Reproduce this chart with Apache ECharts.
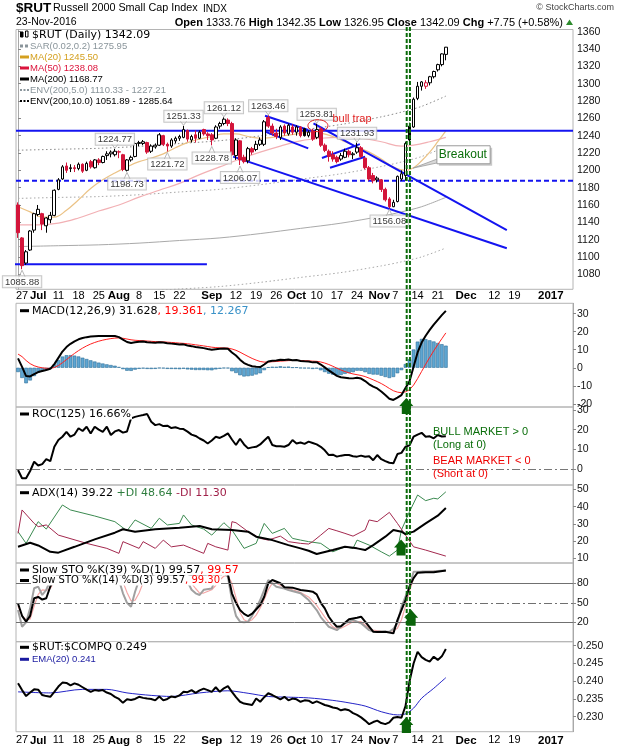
<!DOCTYPE html>
<html><head><meta charset="utf-8">
<script src="https://cdn.jsdelivr.net/npm/echarts@6/dist/echarts.min.js"></script>
<style>html,body{margin:0;padding:0;background:#fff}#c{width:620px;height:750px}</style>
</head><body><div id="c"></div>
<script>
// ---------- DATA ----------
const dates = ['Jun 24','Jun 27','Jun 28','Jun 29','Jun 30','Jul 1','Jul 5','Jul 6','Jul 7','Jul 8','Jul 11','Jul 12','Jul 13','Jul 14','Jul 15','Jul 18','Jul 19','Jul 20','Jul 21','Jul 22','Jul 25','Jul 26','Jul 27','Jul 28','Jul 29','Aug 1','Aug 2','Aug 3','Aug 4','Aug 5','Aug 8','Aug 9','Aug 10','Aug 11','Aug 12','Aug 15','Aug 16','Aug 17','Aug 18','Aug 19','Aug 22','Aug 23','Aug 24','Aug 25','Aug 26','Aug 29','Aug 30','Aug 31','Sep 1','Sep 2','Sep 6','Sep 7','Sep 8','Sep 9','Sep 12','Sep 13','Sep 14','Sep 15','Sep 16','Sep 19','Sep 20','Sep 21','Sep 22','Sep 23','Sep 26','Sep 27','Sep 28','Sep 29','Sep 30','Oct 3','Oct 4','Oct 5','Oct 6','Oct 7','Oct 10','Oct 11','Oct 12','Oct 13','Oct 14','Oct 17','Oct 18','Oct 19','Oct 20','Oct 21','Oct 24','Oct 25','Oct 26','Oct 27','Oct 28','Oct 31','Nov 1','Nov 2','Nov 3','Nov 4','Nov 7','Nov 8','Nov 9','Nov 10','Nov 11','Nov 14','Nov 15','Nov 16','Nov 17','Nov 18','Nov 21','Nov 22','Nov 23','Nov 25','Nov 28','Nov 29','Nov 30','Dec 1','Dec 2','Dec 5','Dec 6','Dec 7','Dec 8','Dec 9','Dec 12','Dec 13','Dec 14','Dec 15','Dec 16','Dec 19','Dec 20','Dec 21','Dec 22','Dec 23','Dec 27','Dec 28','Dec 29','Dec 30','Jan 3','Jan 4','Jan 5','Jan 6','Jan 9','Jan 10'];

// tick labels: [category, text, style] (1 = month, bold)
const xTickLabels = [['Jun 27','27',0],['Jul 1','Jul',1],['Jul 11','11',0],['Jul 18','18',0],['Jul 25','25',0],['Aug 1','Aug',1],['Aug 8','8',0],['Aug 15','15',0],['Aug 22','22',0],['Sep 1','Sep',1],['Sep 12','12',0],['Sep 19','19',0],['Sep 26','26',0],['Oct 3','Oct',1],['Oct 10','10',0],['Oct 17','17',0],['Oct 24','24',0],['Nov 1','Nov',3],['Nov 7','7',2],['Nov 14','14',0],['Nov 21','21',0],['Dec 1','Dec',1],['Dec 12','12',0],['Dec 19','19',0],['Jan 3','2017',1]];

// [open, close, low, high]
const candles = [[1160,1128,1122,1163],[1122,1090,1085.88,1123],[1093,1106,1091,1108],[1108,1130,1107,1131],[1131,1150,1128,1151],[1149,1155,1147,1160],[1150,1138,1131,1151],[1136,1145,1128,1146],[1143,1148,1139,1152],[1148,1177,1147,1178],
[1178,1189,1177,1191],[1190,1204,1189,1206],[1205,1200,1197,1209],[1202,1203,1198,1207],[1203,1202,1198,1206],[1202,1207,1200,1209],[1207,1199,1197,1208],[1200,1208,1199,1210],[1210,1204,1202,1212],[1203,1212,1202,1213],
[1212,1209,1206,1214],[1209,1216,1208,1217],[1217,1219,1212,1222],[1219,1221,1215,1223],[1218,1222,1216,1224.77],[1221,1221.5,1214,1223],[1218,1201,1199,1219],[1200,1212,1198.73,1213],[1212,1215,1210,1217],[1216,1231,1215,1232],
[1231,1232,1228,1234],[1231,1233,1229,1235],[1232,1221,1219,1233],[1222,1228,1220,1230],[1227,1229,1225,1231],[1229,1241,1228,1243],[1240,1230,1228,1241],[1230,1228,1221.72,1232],[1228,1235,1226,1237],[1234,1237,1231,1239],
[1237,1239,1234,1241],[1238,1247,1237,1251.33],[1246,1236,1233,1247],[1235,1239,1232,1241],[1241,1237,1232,1246],[1237,1244,1236,1246],[1247,1242,1240,1248],[1242,1240,1235,1244],[1241,1235,1228.78,1243],[1237,1250,1236,1252],
[1251,1254,1248,1256],[1254,1259,1252,1261.12],[1258,1254,1251,1260],[1254,1218,1217,1256],[1217,1235,1212,1237],[1234,1212,1206.07,1235],[1215,1210,1208,1218],[1211,1225,1208,1227],[1225,1221,1218,1227],[1224,1230,1222,1234],
[1230,1235,1228,1238],[1230,1256,1228,1258],[1261,1251,1249,1263.46],[1251,1243,1240,1254],[1243,1239,1236,1248],[1238,1250,1235,1252],[1251,1243,1240,1253],[1242,1252,1240,1254],[1250,1244,1241,1253],[1244,1250,1240,1252],
[1250,1240,1238,1251],[1248,1240,1239,1249],[1240,1244,1238,1246],[1245,1236,1234,1248],[1238,1247,1236,1253.81],[1248,1229,1227,1250],[1229,1223,1221,1231],[1222,1216,1210,1224],[1218,1213,1210,1222],[1215,1210,1208,1217],
[1213,1217,1211,1220],[1215,1222,1214,1225],[1222,1218,1215,1224],[1218,1219,1213,1221],[1221,1226,1219,1231.93],[1226,1216,1214,1228],[1214,1203,1201,1215],[1203,1190,1188,1205],[1194,1188,1185,1197],[1189,1191,1186,1193],
[1189,1178,1175,1190],[1178,1166,1164,1180],[1167,1158,1156.08,1169],[1158,1163,1157.5,1166],[1164,1193,1163,1194],[1190,1196,1188,1200],[1194,1231,1188,1233],[1251,1235,1232,1255],[1250,1282,1249,1284],[1283,1297,1281,1302],
[1297,1302,1292,1303],[1297,1301,1294,1304],[1301,1308,1298,1309],[1308,1314,1306,1315],[1316,1322,1314,1323],[1322,1334.34,1320,1335],[1333.76,1342.09,1326.95,1342.35]];

// overlays [index, value]
const ma20 = [[0,1158],[3,1152],[6,1146],[9,1146],[12,1154],[15,1166],[18,1179],[21,1189],[24,1197],[27,1204],[30,1210],[33,1214],[36,1219],[39,1226],[42,1232],[45,1236],[48,1239],[51,1242],[54,1242],[57,1239],[60,1237],[63,1238],[66,1240],[69,1242],[72,1244],[75,1243],[78,1239],[81,1233],[84,1227],[87,1221],[90,1213],[93,1204],[96,1200],[98,1203],[100,1211],[102,1221],[104,1233],[106,1245.5]];
const ma50 = [[0,1137],[5,1137],[10,1139],[15,1145],[20,1153],[25,1160],[30,1169],[35,1177],[40,1185],[45,1195],[50,1204],[55,1213],[60,1221],[65,1228],[70,1234],[75,1237],[80,1238],[85,1237],[90,1233],[95,1228],[98,1229],[102,1233],[106,1238.08]];
const ma200 = [[0,1112],[10,1113],[20,1114],[30,1116],[40,1119],[50,1122],[60,1127],[70,1133],[80,1139],[90,1147],[95,1152],[100,1158],[106,1168.77]];
const env5Upper = [[0,1167.6],[10,1168.7],[20,1169.7],[30,1171.8],[40,1175],[50,1178.1],[60,1183.4],[70,1189.7],[80,1196],[90,1204.4],[95,1209.6],[100,1215.9],[106,1227.21]];
const env5Lower = [[0,1056.4],[10,1057.4],[20,1058.3],[30,1060.2],[40,1063],[50,1065.9],[60,1070.7],[70,1076.4],[80,1082],[90,1089.7],[95,1094.4],[100,1100.1],[106,1110.33]];
const env10Upper = [[0,1223.2],[10,1224.3],[20,1225.4],[30,1227.6],[40,1230.9],[50,1234.2],[60,1239.7],[70,1246.3],[80,1252.9],[90,1261.7],[95,1267.2],[100,1273.8],[106,1285.64]];
const env10Lower = [[0,1000.8],[50,1009.8],[100,1042.2],[106,1051.89]];

// price callouts [index, value, side]
const priceNotes = [[1,1085.88,'low'],[24,1224.77,'high'],[27,1198.73,'low'],[37,1221.72,'low'],[41,1251.33,'high'],[48,1228.78,'low'],[51,1261.12,'high'],[55,1206.07,'low'],[62,1263.46,'high'],[74,1253.81,'high'],[84,1231.93,'high'],[92,1156.08,'low']];

// drawn trendlines [x1, y1, x2, y2] in index/price units
const trendSegments = [[-4.5,1091.5,46.8,1091.5],[61.2,1263.0,71.9,1246.5],[61.2,1244.6,71.9,1225.3],[73.2,1254.2,121.1,1131.1],[53.3,1215.8,121.1,1110],[75.3,1214.2,84.7,1230.2],[77.3,1203,86.0,1215.7]];
const resistanceLevel = 1245.8;
const supportLevel = 1188;
const breakoutDays = [96.3, 97.1];
const bullTrapAt = [74.3, 1251.5];
const breakoutNoteAt = [97.9, 1202.6];

// MACD
const macdLine = [5.2,0.5,-4.6,-4.8,-3.5,-2.4,-1.8,-1.2,-0.6,2.0,5.5,9.0,11.5,13.3,14.7,15.8,16.5,17.0,17.3,17.5,17.6,17.7,17.7,17.7,17.6,17.0,15.6,14.3,13.8,14.2,14.5,14.6,14.2,14.0,13.9,14.2,14.0,13.6,13.4,13.2,12.9,13.0,12.4,12.0,11.5,11.2,10.9,10.4,10.0,10.3,10.5,10.7,10.6,8.5,6.8,4.5,2.6,1.6,0.8,0.5,0.4,1.8,3.5,3.9,4.0,4.5,4.3,4.6,4.2,4.3,3.8,3.6,3.5,3.0,3.1,1.8,0.2,-1.5,-3.0,-4.5,-5.3,-5.5,-5.8,-5.9,-5.5,-6.0,-7.4,-9.2,-10.5,-11.5,-13.2,-15.2,-17.2,-17.9,-16.6,-15.2,-11.3,-7.5,0.5,8.5,14.0,17.8,21.0,24.0,26.6,29.2,31.63];
const macdSignal = [7.6,6.18,4.02,2.26,1.11,0.41,-0.03,-0.26,-0.33,0.14,1.21,2.77,4.52,6.28,7.96,9.53,10.92,12.14,13.17,14.04,14.75,15.34,15.81,16.19,16.47,16.58,16.38,15.96,15.53,15.26,15.11,15.01,14.85,14.68,14.52,14.46,14.37,14.22,14.06,13.89,13.69,13.55,13.32,13.06,12.75,12.44,12.13,11.78,11.42,11.20,11.06,10.99,10.91,10.43,9.70,8.66,7.45,6.28,5.18,4.24,3.47,3.14,3.21,3.35,3.48,3.68,3.80,3.96,4.01,4.07,4.02,3.94,3.85,3.68,3.56,3.21,2.61,1.79,0.83,-0.24,-1.25,-2.10,-2.84,-3.45,-3.86,-4.29,-4.91,-5.77,-6.72,-7.68,-8.78,-10.06,-11.49,-12.77,-13.54,-13.87,-13.36,-12.19,-9.65,-6.02,-2.02,1.94,5.75,9.40,12.84,16.11,19.36];
const macdHist = [-2.4,-5.68,-8.62,-7.06,-4.61,-2.81,-1.77,-0.94,-0.27,1.86,4.29,6.23,6.98,7.02,6.74,6.27,5.58,4.86,4.13,3.46,2.85,2.36,1.89,1.51,1.13,0.42,-0.78,-1.66,-1.73,-1.06,-0.61,-0.41,-0.65,-0.68,-0.62,-0.26,-0.37,-0.62,-0.66,-0.69,-0.79,-0.55,-0.92,-1.06,-1.25,-1.24,-1.23,-1.38,-1.42,-0.90,-0.56,-0.29,-0.31,-1.93,-2.90,-4.16,-4.85,-4.68,-4.38,-3.74,-3.07,-1.34,0.29,0.55,0.52,0.82,0.50,0.64,0.19,0.23,-0.22,-0.34,-0.35,-0.68,-0.46,-1.41,-2.41,-3.29,-3.83,-4.26,-4.05,-3.40,-2.96,-2.45,-1.64,-1.71,-2.49,-3.43,-3.78,-3.82,-4.42,-5.14,-5.71,-5.13,-3.06,-1.33,2.06,4.69,10.15,14.52,16.02,15.86,15.25,14.60,13.76,13.09,12.27];

// ROC(125)
const roc = [[0,-0.5],[1,-4.7],[2,-4.7],[3,-1],[4,3.7],[5,1.8],[6,2.5],[7,5],[8,4],[9,11.3],[10,14.7],[11,16.4],[12,18.9],[13,16.4],[14,17.5],[15,20.7],[16,19.3],[17,21.5],[18,18.1],[19,21.5],[20,20.0],[21,18.9],[22,21.5],[23,17.3],[24,19.1],[25,19.8],[26,18.5],[27,19.1],[28,25.7],[29,26.5],[30,27.0],[31,27.4],[32,27.9],[33,24],[34,22.3],[35,22.8],[36,21.8],[37,22],[38,20.8],[39,21.2],[40,20.5],[41,20.3],[42,19],[43,17.5],[44,16.8],[45,15.5],[46,14.5],[47,13.0],[48,14.5],[49,16.4],[50,15.8],[51,16.8],[52,18.1],[53,15],[54,12.2],[55,15.4],[56,12.5],[57,10.5],[58,11],[59,11.3],[60,12.5],[61,14.5],[62,16.4],[63,12.2],[64,11.6],[65,11.6],[66,11.3],[67,12.2],[68,14.7],[69,13],[70,13.5],[71,12.8],[72,13.9],[73,13.2],[74,12.5],[75,11.3],[76,9.5],[77,7.1],[78,7.3],[79,6.3],[80,6.8],[81,7.1],[82,7.1],[83,6.5],[84,6.3],[85,6.8],[86,6.2],[87,6.5],[88,4.5],[89,7.1],[90,5],[91,4],[92,3.2],[93,2.9],[94,7.6],[95,8.2],[96,11.3],[97,12],[98,16.4],[99,17.5],[100,18.4],[101,16.4],[102,16.6],[103,15.6],[104,17.3],[105,16.5],[106,16.66]];

// ADX(14)
const adx = [[0,16.7],[3,19.1],[5,17.5],[8,13.8],[10,13.3],[14,16.7],[19,21],[24,24.9],[26,26.9],[29,25.5],[34,26.9],[40,27.8],[45,28.8],[48,26.9],[53,26.5],[57,25.5],[59,22.6],[63,20.6],[67,17.7],[70,15.8],[72,14.4],[74,12.5],[78,14.8],[81,16.7],[84,15.8],[86,14.8],[88,17.7],[91,22.6],[93,26.5],[95,25.5],[96,24.1],[98,25.5],[101,30.3],[104,34.8],[106,39.22]];
const plusDI = [[0,25.5],[2,18.7],[5,31.3],[7,27],[11,41],[13,38.1],[19,34.6],[24,31.3],[27,26],[29,32.3],[33,27.4],[35,33.3],[37,29.4],[40,30.3],[41,35.2],[43,29.4],[46,27],[48,23.5],[51,30.7],[52,28.5],[53,26.5],[56,15.8],[59,18.7],[61,30.3],[63,24.5],[66,27.4],[68,21.6],[70,20.6],[72,19.7],[75,18.7],[78,13.8],[81,16.7],[83,15.8],[84,20.6],[87,17.7],[90,13.8],[92,11.3],[94,14.8],[95,26.5],[97,37.1],[99,46.8],[101,43.5],[103,44.9],[104,44.5],[106,48.64]];
const minusDI = [[0,24.5],[1,38.1],[4,30.3],[5,28.4],[7,29.4],[10,23.5],[17,18.7],[22,15.8],[25,12.9],[26,19.7],[30,15.8],[31,19.7],[34,15.8],[36,20.6],[38,16.7],[41,17.7],[43,15.8],[46,12.9],[47,18.7],[49,16.7],[52,14.8],[53,31.3],[54,30.7],[57,25.5],[60,21.6],[62,20.6],[65,22.9],[67,19.7],[70,18.7],[72,18.3],[73,19.7],[75,23.5],[77,27.4],[79,26],[81,24.5],[83,22.9],[86,26.5],[87,32.3],[89,31.3],[92,36.7],[94,30.3],[96,23.5],[98,16.7],[101,14.8],[106,11.3]];

// Slow stochastics
const stoK39 = [[0,49],[1,30],[2,21],[3,30],[4,57],[5,59],[6,55],[7,57],[8,75],[9,88],[10,93],[11,97],[12,95],[14,94],[16,92],[18,95],[20,96],[22,97],[24,98],[25,96],[26,85],[27,88],[29,96],[31,97],[33,92],[35,96],[37,90],[39,94],[41,97],[43,92],[45,94],[47,90],[48,88],[49,95],[51,97],[52,94],[53,64.6],[54,50],[55,38.9],[56,33],[57,29.7],[58,33.2],[60,46.6],[61,59.4],[62,80],[63,85],[65,80],[66,73.8],[68,73.3],[70,69.7],[72,68],[73,67.1],[74,63],[75,50],[76,41.5],[77,28.6],[78,20],[79,13.2],[80,14],[82,24.6],[84,27],[85,28.6],[86,21],[88,5.5],[89,5],[91,5.5],[93,3],[94,23.5],[96,54.3],[97,75],[98,88],[99,96.3],[101,97],[103,97],[106,99.57]];
const stoK14 = [[0,38.9],[1,13.2],[2,20],[3,41.5],[4,72.3],[5,74.8],[6,62],[7,70],[8,85],[9,95],[10,96],[12,90],[14,88],[16,85],[18,92],[20,90],[22,95],[24,96],[25,85],[26,64.6],[27,50],[28,44],[29,67],[30,85],[31,90],[33,80],[35,92],[37,78],[39,88],[41,95],[43,70],[44,64.6],[45,62],[46,70],[48,72],[49,88],[51,96],[52,90],[53,54.3],[54,30],[55,21],[56,20],[57,21],[58,30],[59,41.5],[60,54.3],[61,70],[62,85],[64,74.8],[66,72],[67,69.7],[70,64.6],[72,54.3],[74,38.9],[75,28],[77,13.2],[79,8],[81,18.4],[83,23.5],[85,18.4],[87,8],[88,6],[90,5.5],[92,5.5],[93,10],[94,18.4],[95,44],[97,74.8],[98,97.9],[100,98],[103,98.5],[106,99.57]];
const stoD3 = [[0,45],[1,30],[2,24],[3,25],[4,45],[5,63],[6,70],[7,69],[8,72],[9,83],[10,92],[12,92],[14,89],[16,87],[18,88],[20,90],[22,93],[24,95],[25,92],[26,82],[27,66],[28,53],[29,54],[30,65],[31,81],[33,85],[35,87],[37,84],[39,86],[41,91],[43,80],[44,72],[45,65],[46,65],[48,70],[49,77],[50,85],[51,91],[52,92],[53,80],[54,58],[55,35],[56,24],[57,21],[58,24],[59,31],[60,42],[61,55],[62,70],[63,80],[64,80],[66,74],[68,70],[70,66],[72,59],[74,46],[75,37],[76,28],[77,20],[78,13],[79,10],[80,11],[81,14],[83,21],[85,21],[86,16],[87,11],[88,8],[90,6],[92,5.5],[93,7],[94,11],[95,24],[96,45],[97,68],[98,87],[99,97],[101,98],[103,98.5],[106,99.3]];

// $RUT:$COMPQ ratio and EMA(20)
const ratio = [[0,0.2394],[1,0.2375],[2,0.2358],[3,0.2368],[4,0.2377],[5,0.2376],[6,0.2361],[7,0.2358],[8,0.2356],[9,0.2370],[10,0.2385],[11,0.2396],[12,0.2395],[13,0.2388],[14,0.2394],[15,0.2390],[16,0.2383],[17,0.2376],[18,0.2370],[19,0.2375],[20,0.2373],[21,0.2375],[22,0.2368],[23,0.2364],[24,0.2356],[25,0.2350],[26,0.2339],[27,0.2349],[28,0.2347],[29,0.2350],[30,0.2356],[31,0.2353],[32,0.2351],[33,0.2350],[34,0.2346],[35,0.2357],[36,0.2346],[37,0.2350],[38,0.2357],[39,0.2355],[40,0.2360],[41,0.2370],[42,0.2369],[43,0.2375],[44,0.2367],[45,0.2374],[46,0.2379],[47,0.2375],[48,0.2370],[49,0.2383],[50,0.2370],[51,0.2380],[52,0.2386],[53,0.2370],[54,0.2355],[55,0.2342],[56,0.2337],[57,0.2335],[58,0.2333],[59,0.2351],[60,0.2342],[61,0.2355],[62,0.2366],[63,0.2361],[64,0.2355],[65,0.2349],[66,0.2356],[67,0.2346],[68,0.2351],[69,0.2349],[70,0.2342],[71,0.2346],[72,0.2345],[73,0.2338],[74,0.2343],[75,0.2338],[76,0.2333],[77,0.2330],[78,0.2326],[79,0.2324],[80,0.2318],[81,0.2321],[82,0.2318],[83,0.2310],[84,0.2305],[85,0.2298],[86,0.2289],[87,0.2279],[88,0.2285],[89,0.2289],[90,0.2282],[91,0.2279],[92,0.2284],[93,0.2297],[94,0.2299],[95,0.2297],[96,0.2330],[97,0.2400],[98,0.2450],[99,0.2483],[100,0.2468],[101,0.2460],[102,0.2455],[103,0.2469],[104,0.2460],[105,0.2470],[106,0.2491]];
const ratioEma = [[0,0.2370],[8,0.2367],[16,0.2377],[22,0.2377],[27,0.2367],[33,0.2360],[38,0.2357],[45,0.2367],[52,0.2373],[57,0.2366],[62,0.2357],[67,0.2355],[72,0.2353],[78,0.2346],[82,0.2339],[86,0.2330],[90,0.2314],[94,0.2305],[96,0.2308],[98,0.2324],[100,0.2352],[103,0.2380],[106,0.2410]];

// axis tick values
const mainTicks = [1080,1100,1120,1140,1160,1180,1200,1220,1240,1260,1280,1300,1320,1340,1360];
const macdTicks = [-20,-10,0,10,20,30];
const rocTicks = [0,10,20,30];
const adxTicks = [10,20,30,40,50];
const stoTicks = [20,50,80];
const ratioTicks = [0.230,0.235,0.240,0.245,0.250];

// arrows: [index, panel, value]
const signalArrows = [[96.2,1,-21.3],[94.9,3,16.3],[97.4,4,26.9],[96.2,5,0.22766]];

// ---------- CHART ----------
const FA = 'Liberation Sans, Arial, sans-serif';
const FL = 'DejaVu Sans, Verdana, sans-serif';
const RED = '#d3153a';
const chart = echarts.init(document.getElementById('c'));

const panelBoxes = [[29.5,259.8],[303.3,103.7],[407,78],[485,78],[563,78.7],[641.7,90]];
const grids = panelBoxes.map(([t,h]) => ({left:16, right:47, top:t, height:h, show:true, borderColor:'#b4b4b4', borderWidth:1}));

const labelMap = {};
const tagFor = ['n','m','s','t'];
xTickLabels.forEach(([d,t,b]) => labelMap[d] = '{'+tagFor[b]+'|'+t+'}');
const xLabelStyle = (margin) => ({
  show:true, interval:(i,v)=>labelMap[v]!==undefined, formatter:(v)=>labelMap[v]||'', margin:margin,
  rich:{m:{fontFamily:FA,fontSize:11.5,fontWeight:'bold',color:'#000'}, n:{fontFamily:FA,fontSize:11,color:'#000'},
        s:{fontFamily:FA,fontSize:11,color:'#000',padding:[0,4,0,0]}, t:{fontFamily:FA,fontSize:11.5,fontWeight:'bold',color:'#000',padding:[0,4,0,0]}}
});
const xAxes = panelBoxes.map((b,k)=>({type:'category', gridIndex:k, data:dates, boundaryGap:true,
  axisLine:{show:false}, axisTick:{show:false}, splitLine:{show:false},
  axisLabel: (k===0? xLabelStyle(1) : (k===5? xLabelStyle(3) : {show:false}))}));
xAxes.push({type:'value', gridIndex:0, min:-0.5, max:dates.length-0.5, show:false});

const yDefs = [[1062.7,1362.5,mainTicks,null],[-21.8,35.8,macdTicks,null],[-8.1,31.5,rocTicks,null],[7.3,52.6,adxTicks,null],[-9.8,111.2,stoTicks,null],[0.22577,0.25113,ratioTicks,v=>v.toFixed(3)]];
const yAxes = yDefs.map(([mn,mx,ticks,fmt],k)=>({type:'value', gridIndex:k, position:'right', min:mn, max:mx,
  splitLine:{show:false}, axisLine:{show:true, lineStyle:{color:'#a8a8a8'}},
  axisTick:{show:true, length:3, customValues:ticks, lineStyle:{color:'#888'}},
  axisLabel:{show:true, customValues:ticks, formatter: fmt || (v=>String(v)), color:'#111', fontSize:10.5, fontFamily:FA, margin:4}}));

const candleItems = candles.map((d,i)=>{
  const [o,c,l,h] = d; const prev = i>0 ? candles[i-1][1] : o;
  let fill, border;
  if (c >= o) { fill = '#ffffff'; border = c >= prev ? '#000000' : RED; }
  else { fill = c < prev ? RED : '#000000'; border = fill; }
  return {value:[o,c,l,h], itemStyle:{color:fill, color0:fill, borderColor:border, borderColor0:border, borderWidth:1}};
});

const line = (data, xi, yi, color, width, extra) => Object.assign({type:'line', xAxisIndex:xi, yAxisIndex:yi, data, symbol:'none', showSymbol:false, silent:true, animation:false, connectNulls:true, lineStyle:{color, width}}, extra||{});

const series = [];
series.push(line(env10Lower,0,0,'#8a8a8a',1,{lineStyle:{color:'#8a8a8a',width:1,type:[1.5,2.5]}}));
series.push(line(env10Upper,0,0,'#8a8a8a',1,{smooth:0.3,lineStyle:{color:'#8a8a8a',width:1,type:[1.5,2.5]}}));
series.push(line(env5Upper,0,0,'#b0b0b0',1,{smooth:0.3,lineStyle:{color:'#a8a8a8',width:1,type:[1.5,2.5]}}));
series.push(line(env5Lower,0,0,'#b0b0b0',1,{smooth:0.3,lineStyle:{color:'#a8a8a8',width:1,type:[1.5,2.5]}}));
series.push(line(ma200,0,0,'#a9a9a9',1,{smooth:0.3}));
series.push(line(ma50,0,0,'#f2b0b4',1.2,{smooth:0.4}));
series.push(line(ma20,0,0,'#ebc285',1.2,{smooth:0.4}));
series.push(line([[-0.5,resistanceLevel],[dates.length-0.5,resistanceLevel]],6,0,'#1414f0',2,{clip:false}));
series.push(line([[-0.5,supportLevel],[dates.length-0.5,supportLevel]],6,0,'#1414f0',2,{clip:false,lineStyle:{color:'#1414f0',width:2,type:[5,3]}}));
trendSegments.forEach(s=>series.push(line([[s[0],s[1]],[s[2],s[3]]],6,0,'#1414f0',2,{clip:false})));
series.push({type:'candlestick', xAxisIndex:0, yAxisIndex:0, data:candleItems, barWidth:3.2, silent:true, animation:false, z:5});
series.push({type:'scatter', xAxisIndex:0, yAxisIndex:0, symbolSize:0, silent:true, animation:false, z:20,
  data: priceNotes.map(([i,v,side])=>({value:[i,v], label:{position: side==='high'?'top':'bottom', distance: side==='high'?4:7}})),
  label:{show:true, formatter:p=>p.value[1].toFixed(2), fontSize:9.5, fontFamily:FA, color:'#000', backgroundColor:'#fff', borderColor:'#b8b8b8', borderWidth:1, padding:[1,2,0,2]}});
series.push({type:'bar', xAxisIndex:1, yAxisIndex:1, data:macdHist, barWidth:3.6, silent:true, animation:false, itemStyle:{color:'#5ea6d2', borderColor:'#2d6e98', borderWidth:0.6}});
series.push(line(macdSignal.map((v,i)=>[i,v]),1,1,'#ff2020',1));
series.push(line(macdLine.map((v,i)=>[i,v]),1,1,'#000',2));
series.push(line(roc,2,2,'#000',2,{markLine:{silent:true,symbol:'none',label:{show:false},animation:false,data:[{yAxis:0,lineStyle:{color:'#777',width:1,type:[8,3,2,3]}}]}}));
series.push(line(plusDI,3,3,'#3b8a50',1));
series.push(line(minusDI,3,3,'#a3284e',1));
series.push(line(adx,3,3,'#000',2));
series.push(line(stoD3,4,4,'#f4a6a6',1.2,{markLine:{silent:true,symbol:'none',label:{show:false},animation:false,data:[
  {yAxis:80,lineStyle:{color:'#707070',width:1,type:'solid'}},{yAxis:20,lineStyle:{color:'#707070',width:1,type:'solid'}},{yAxis:50,lineStyle:{color:'#707070',width:1,type:[8,3,2,3]}}]}}));
series.push(line(stoK14,4,4,'#a0a0a0',2));
series.push(line(stoK39,4,4,'#000',2));
series.push(line(ratioEma,5,5,'#2424c8',1,{smooth:0.3}));
series.push(line(ratio,5,5,'#000',2));

chart.setOption({animation:false, backgroundColor:'#fff', grid:grids, xAxis:xAxes, yAxis:yAxes, series});

// ---------- ANNOTATIONS ----------
const X = v => chart.convertToPixel({xAxisIndex:6}, v);
const Y = (k,v) => chart.convertToPixel({yAxisIndex:k}, v);
const g = [];
const txt = (x,y,text,font,fill,opts) => g.push(Object.assign({type:'text', x, y, z:60, silent:true, style:Object.assign({text, font, fill, verticalAlign:'middle', align:'left'}, (opts||{}))}));

txt(16,8.5,'$RUT','bold 13.5px '+FA,'#000');
txt(53,8.5,'Russell 2000 Small Cap Index','10.8px '+FA,'#000');
txt(203,9,'INDX','10px '+FA,'#000');
txt(16,22.5,'23-Nov-2016','10.5px '+FA,'#000');
g.push({type:'text', x:563, y:22.5, z:60, silent:true, style:{text:'{b|Open} 1333.76 {b|High} 1342.35 {b|Low} 1326.95 {b|Close} 1342.09 {b|Chg} +7.75 (+0.58%)', font:'11px '+FA, fill:'#000', align:'right', verticalAlign:'middle', rich:{b:{font:'bold 11px '+FA, fill:'#000'}}}});
g.push({type:'polygon', z:60, silent:true, shape:{points:[[566,25],[573,25],[569.5,19.5]]}, style:{fill:'#2e8b2e'}});
txt(614,8,'© StockCharts.com','9px '+FA,'#444',{align:'right'});

const mainLegend = [['$RUT (Daily) 1342.09','#000','candle'],['SAR(0.02,0.2) 1275.95','#8a959b','sar'],['MA(20) 1245.50','#d4a020','bar'],['MA(50) 1238.08','#dc143c','bar'],['MA(200) 1168.77','#000','bar'],['ENV(200,5.0) 1110.33 - 1227.21','#8a959b','dots'],['ENV(200,10.0) 1051.89 - 1285.64','#000','dots']];
mainLegend.forEach(([t,c,icon],i)=>{
  const y = 35 + i*11;
  if (icon==='candle') {
    g.push({type:'rect', z:60, silent:true, shape:{x:20.5,y:y-3,width:2.5,height:5}, style:{fill:'#000',stroke:'#000',lineWidth:1}});
    g.push({type:'rect', z:60, silent:true, shape:{x:25.5,y:y-4,width:2.5,height:6}, style:{fill:'#fff',stroke:'#000',lineWidth:1}});
    txt(32,y,t,'11px '+FL,c);
  } else {
    if (icon==='bar') g.push({type:'rect', z:60, silent:true, shape:{x:20,y:y-1.5,width:9,height:3}, style:{fill:c}});
    if (icon==='sar') [20,25].forEach(xx=>g.push({type:'rect', z:60, silent:true, shape:{x:xx,y:y-1.5,width:3,height:3}, style:{fill:c}}));
    if (icon==='dots') [20,23.5,27].forEach(xx=>g.push({type:'rect', z:60, silent:true, shape:{x:xx,y:y-1,width:2,height:2}, style:{fill:c}}));
    txt(30,y,t,'9.5px '+FA,c);
  }
});

const icon = (y,c)=>g.push({type:'rect', z:61, silent:true, shape:{x:20,y:y-1.5,width:9,height:3}, style:{fill:c}});
const lg = (y,text,rich,font) => g.push({type:'text', x:31, y, z:60, silent:true, style:{text, font, fill:'#000', verticalAlign:'middle', backgroundColor:'#fff', padding:[0,1,0,1], rich}});
const R = (f,c) => ({font:f, fill:c});
const F11 = '11px '+FL, F95 = '9.5px '+FA;
lg(310.7,'{k|MACD(12,26,9) 31.628}{r|, 19.361}{b|, 12.267}',{k:R(F11,'#000'),r:R(F11,'#ff0000'),b:R(F11,'#3a92c8')},F11); icon(310.7,'#000');
lg(414,'{k|ROC(125) 16.66%}',{k:R(F11,'#000')},F11); icon(414,'#000');
lg(492.7,'{k|ADX(14) 39.22 }{g|+DI 48.64 }{m|-DI 11.30}',{k:R(F11,'#000'),g:R(F11,'#2e7d3e'),m:R(F11,'#a0224a')},F11); icon(492.7,'#000');
lg(570,'{k|Slow STO %K(39) %D(1) 99.57}{r|, 99.57}',{k:R(F11,'#000'),r:R(F11,'#ff0000')},F11); icon(570,'#000');
lg(580.5,'{k|Slow STO %K(14) %D(3) 99.57}{r|, 99.30}',{k:R('10px '+FL,'#000'),r:R('10px '+FL,'#ff0000')},'10px '+FL); icon(580.5,'#000');
lg(647.3,'{k|$RUT:$COMPQ 0.249}',{k:R(F11,'#000')},F11); icon(647.3,'#000');
lg(659.3,'{k|EMA(20) 0.241}',{k:R(F95,'#1a1aa0')},F95); icon(659.3,'#1a1aa0');

txt(433,432.3,'BULL MARKET > 0','11px '+FA,'#0a6e0a');
txt(433,445.3,'(Long at 0)','11px '+FA,'#0a6e0a');
txt(433,461,'BEAR MARKET < 0','11px '+FA,'#ee0000');
txt(433,474,'(Short at 0)','11px '+FA,'#ee0000');

priceNotes.forEach(([i,v,side])=>{
  const px = X(i), py = Y(0,v);
  const pts = side==='high' ? [[px-3,py-4.5],[px,py-0.5],[px+3,py-4.5]] : [[px-3,py+7.5],[px,py+1],[px+3,py+7.5]];
  g.push({type:'polyline', z:70, silent:true, shape:{points:pts}, style:{stroke:'#b8b8b8', lineWidth:1, fill:null}});
});

const bx = X(bullTrapAt[0]), by = Y(0,bullTrapAt[1]);
g.push({type:'ellipse', z:65, silent:true, shape:{cx:bx, cy:by, rx:10, ry:6}, style:{stroke:'#e02020', fill:null, lineWidth:1}});
txt(bx+14.5, by-6.5, 'bull trap', '11px '+FA, '#e02020');

const ax = X(breakoutNoteAt[0]), ay = Y(0,breakoutNoteAt[1]);
const bl = ax+23.7, bt = ay-22.3, bw = 53.3, bh = 18;
g.push({type:'rect', z:62, silent:true, shape:{x:bl+2,y:bt+2,width:bw,height:bh}, style:{fill:'#c8c8c8'}});
g.push({type:'polygon', z:63, silent:true, shape:{points:[[ax,ay],[bl+1,bt+bh-5],[bl+1,bt+bh-1]]}, style:{fill:'#d8d8d8', stroke:'#9a9a9a', lineWidth:0.8}});
g.push({type:'rect', z:64, silent:true, shape:{x:bl,y:bt,width:bw,height:bh}, style:{fill:'#fff', stroke:'#9a9a9a', lineWidth:1}});
txt(bl+2, bt+bh/2, 'Breakout', '12px '+FA, '#0a6e0a', {});
g[g.length-1].z = 66;

breakoutDays.forEach(d=>{ const x = X(d); g.push({type:'line', z:55, silent:true, shape:{x1:x,y1:27,x2:x,y2:733}, style:{stroke:'#0b6b0b', lineWidth:2, lineDash:[4,2]}}); });

signalArrows.forEach(([d,k,v])=>{
  const cx = X(d), cy = Y(k,v);
  g.push({type:'polygon', z:80, silent:true, shape:{points:[[cx,cy-8],[cx+7,cy],[cx+4.5,cy],[cx+4.5,cy+8],[cx-4.5,cy+8],[cx-4.5,cy],[cx-7,cy]]}, style:{fill:'#0a640a'}});
});

chart.setOption({graphic:g});
</script>
</body></html>
